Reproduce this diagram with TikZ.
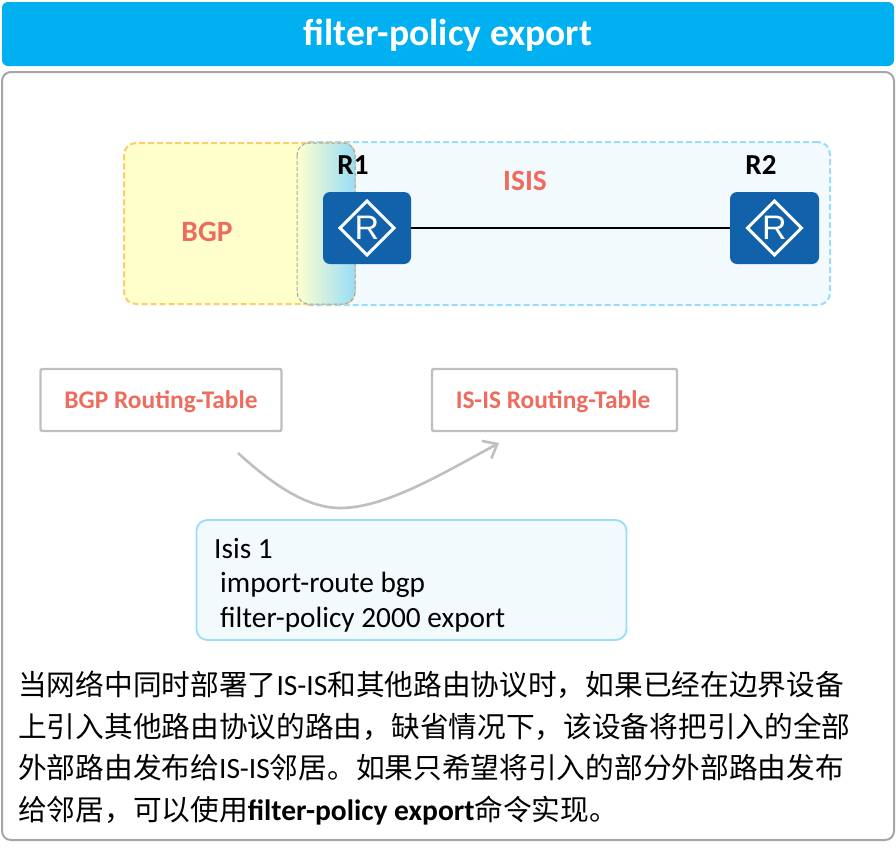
\documentclass[tikz,border=0pt]{standalone}
\usepackage{fontspec}
\setmainfont{Carlito}
\newfontfamily\cjkbase{Noto Sans CJK SC}
\newcommand{\cjk}{\cjkbase\fontsize{28.7}{28.7}\selectfont}
\newfontfamily\dvs{Liberation Sans}
\usetikzlibrary{arrows.meta,shadings,calc}
\definecolor{titleblue}{HTML}{00B0F0}
\definecolor{framegrey}{HTML}{A6A6A6}
\definecolor{boxgrey}{HTML}{BFBFBF}
\definecolor{salmon}{HTML}{EE6C5E}
\definecolor{paleblue}{HTML}{F2FAFE}
\definecolor{skyline}{HTML}{99DDF8}
\definecolor{paleyellow}{HTML}{FFFFCC}
\definecolor{orangeline}{HTML}{FFCC66}
\definecolor{routerblue}{HTML}{1262AB}
\newcommand{\fs}[1]{\fontsize{#1}{#1}\selectfont}
\newcommand{\zc}{\symbol{"FF0C}}
\tikzset{
  x=1pt,y=-1pt,
  zone/.style={rounded corners=12pt,dashed,dash pattern=on 6pt off 3pt,line width=2pt},
  tablebox/.style={draw=boxgrey,line width=2.4pt,rounded corners=2pt,fill=white,minimum height=62pt,inner sep=0pt},
  tabletext/.style={inner sep=0pt,text=salmon,font=\fs{25.4}\bfseries},
  router/.style={fill=routerblue,rounded corners=7pt,minimum height=72pt,inner sep=0pt},
  rlabel/.style={inner sep=0pt,font=\fs{29}\bfseries},
  zonelabel/.style={inner sep=0pt,text=salmon,font=\fs{29.5}\bfseries},
  cfgline/.style={anchor=west,inner sep=0pt,font=\fs{29.3}},
  para/.style={anchor=base west,inner sep=0pt,font=\fs{29.5}},
}
\newcommand{\routericon}[1]{%
  \draw[white,line width=3pt] ($(#1)+(0,-27)$) -- ($(#1)+(27,0)$) -- ($(#1)+(0,27)$) -- ($(#1)+(-27,0)$) -- cycle;
  \node[inner sep=0pt,text=white,font=\dvs\fs{34}] at (#1) {R};
}
\begin{document}
\begin{tikzpicture}
\useasboundingbox (0,0) rectangle (896,847);
\fill[white] (0,0) rectangle (896,847);
\node[fill=titleblue,rounded corners=6pt,minimum width=892pt,minimum height=64pt,inner sep=0pt] (titlebar) at (448,34) {};
\node[inner sep=0pt,text=white,font=\fs{37.5}\bfseries] (title) at (448,35) {filter-policy export};
\draw[framegrey,line width=2pt,rounded corners=9pt,fill=white] (2,72) rectangle (894,840);
\node[zone,draw=skyline,fill=paleblue,minimum width=533pt,minimum height=163pt,inner sep=0pt] (isis) at (563.5,223.5) {};
\node[zone,draw=orangeline,fill=paleyellow,minimum width=231pt,minimum height=161pt,inner sep=0pt] (bgp) at (239.5,223.5) {};
\shade[left color=paleyellow,right color=skyline,rounded corners=12pt] (297,143) rectangle (355,304);
\draw[framegrey,dashed,dash pattern=on 4pt off 2pt,line width=1pt,rounded corners=12pt] (297,143) rectangle (355,304);
\node[zonelabel] (bgplabel) at (207,232) {BGP};
\node[zonelabel] (isislabel) at (525,181) {ISIS};
\node[rlabel] (r1label) at (353,165) {R1};
\node[rlabel] (r2label) at (761,165) {R2};
\node[router,minimum width=88pt] (r1) at (367,228) {};
\node[router,minimum width=89pt] (r2) at (774.5,228) {};
\draw[black,line width=2pt] (r1) -- (r2);
\routericon{r1}
\routericon{r2}
\node[tablebox,minimum width=241pt] (bgptable) at (161,400) {};
\node[tabletext] (bgptabletext) at (161,401.5) {BGP Routing-Table};
\node[tablebox,minimum width=245pt] (isistable) at (554.5,400) {};
\node[tabletext] (isistabletext) at (553,401.5) {IS-IS Routing-Table};
\coordinate (curvestart) at (238,453);
\coordinate (curvemid) at (340,508);
\coordinate (curveend) at (499,443);
\draw[boxgrey,line width=2.6pt,-{Straight Barb[length=12pt,width=20pt]}] (curvestart) .. controls (270,482) and (305,508) .. (curvemid) .. controls (385,508) and (440,475) .. (curveend);
\node[draw=skyline,line width=1.8pt,fill=paleblue,rounded corners=11pt,minimum width=430pt,minimum height=120pt,inner sep=0pt] (cfg) at (411.5,580) {};
\node[cfgline] (cfg1) at (214,549) {Isis 1};
\node[cfgline] (cfg2) at (220,585) {import-route bgp};
\node[cfgline] (cfg3) at (220,620) {filter-policy 2000 export};
\node[para] (l1) at (18,695) {{\cjk 当网络中同时部署了}IS-IS{\cjk 和其他路由协议时\zc 如果已经在边界设备}};
\node[para] (l2) at (18,737) {{\cjk 上引入其他路由协议的路由\zc 缺省情况下\zc 该设备将把引入的全部}};
\node[para] (l3) at (18,778) {{\cjk 外部路由发布给}IS-IS{\cjk 邻居。如果只希望将引入的部分外部路由发布}};
\node[para] (l4) at (18,820) {{\cjk 给邻居\zc 可以使用}\textbf{filter-policy export}{\cjk 命令实现。}};
\end{tikzpicture}
\end{document}
